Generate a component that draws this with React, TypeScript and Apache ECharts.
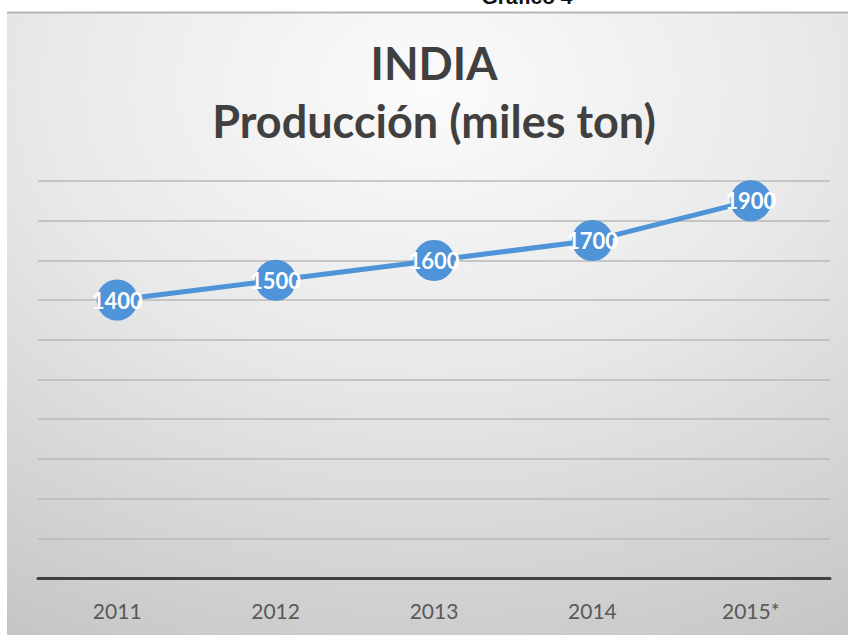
import React, { useEffect, useRef } from "react";
import * as echarts from "echarts";

const categories = ["2011", "2012", "2013", "2014", "2015*"];
const production = [1400, 1500, 1600, 1700, 1900];
const yMin = 0;
const yMax = 2000;
const yInterval = 200;

export default function App() {
  const ref = useRef<HTMLDivElement>(null);
  useEffect(() => {
    if (!ref.current) return;
    const chart = echarts.init(ref.current, undefined, { renderer: "svg" });
    chart.setOption({
      animation: false,
      graphic: [
        {
          type: "rect",
          z: -100,
          shape: { x: 7, y: 12, width: 841, height: 623 },
          style: {
            fill: {
              type: "radial",
              x: 0.5,
              y: 0.12,
              r: 1.0,
              colorStops: [
                { offset: 0, color: "#fbfbfb" },
                { offset: 0.45, color: "#e9e9e9" },
                { offset: 1, color: "#c6c6c6" },
              ],
            },
            stroke: "none",
          },
        },
        {
          type: "line",
          z: -99,
          shape: { x1: 7, y1: 12.5, x2: 848, y2: 12.5 },
          style: { stroke: "#b4b4b4", lineWidth: 2 },
        },
        {
          type: "text",
          x: 527,
          y: 7,
          style: {
            text: "Gráfico 4",
            font: "bold 21px 'Liberation Sans', Arial, sans-serif",
            fill: "#111111",
            align: "center",
            verticalAlign: "bottom",
          },
        },
        {
          type: "text",
          x: 434,
          y: 34,
          style: {
            text: "INDIA\nProducción (miles ton)",
            font: "bold 45px Lato, sans-serif",
            lineHeight: 58,
            fill: "#404040",
            align: "center",
            verticalAlign: "top",
          },
        },
      ],
      grid: { left: 38, right: 18, top: 181, bottom: 57 },
      xAxis: {
        type: "category",
        data: categories,
        boundaryGap: true,
        axisLine: { show: true, lineStyle: { color: "#404040", width: 3 } },
        axisTick: { show: false },
        axisLabel: {
          color: "#595959",
          fontFamily: "Lato, sans-serif",
          fontSize: 21,
          margin: 22,
        },
      },
      yAxis: {
        type: "value",
        min: yMin,
        max: yMax,
        interval: yInterval,
        axisLine: { show: false },
        axisTick: { show: false },
        axisLabel: { show: false },
        splitLine: { show: true, lineStyle: { color: "#b9b9b9", width: 1.5 } },
      },
      series: [
        {
          type: "line",
          data: production,
          symbol: "circle",
          symbolSize: 41,
          lineStyle: { color: "#4f93d8", width: 5 },
          itemStyle: { color: "#4f93d8", borderWidth: 0 },
          label: {
            show: true,
            position: "inside",
            color: "#ffffff",
            fontFamily: "Lato, sans-serif",
            fontWeight: "bold",
            fontSize: 22,
          },
        },
      ],
    });
    return () => chart.dispose();
  }, []);
  return (
    <div
      ref={ref}
      style={{ position: "absolute", left: 0, top: 0, width: 848, height: 635 }}
    />
  );
}
